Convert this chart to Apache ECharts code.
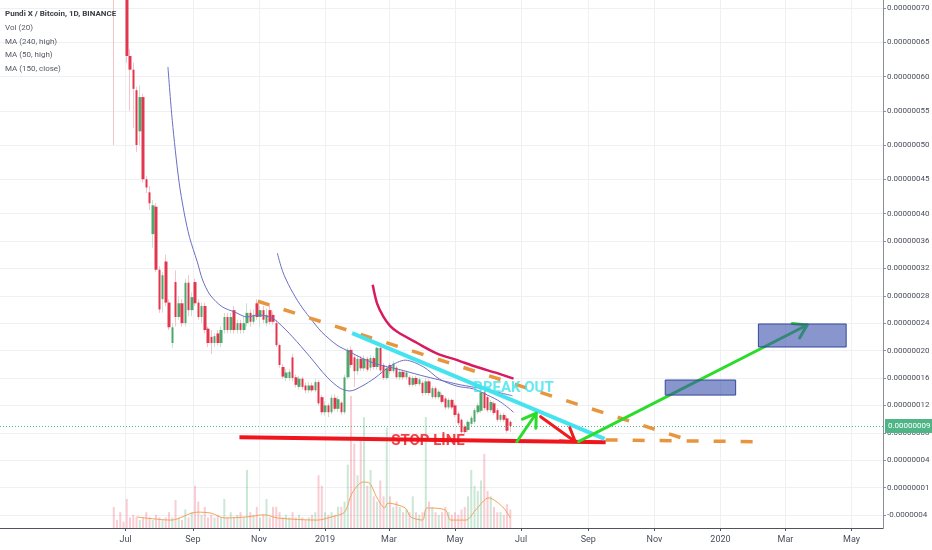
<!DOCTYPE html>
<html><head><meta charset="utf-8">
<script src="https://cdn.jsdelivr.net/npm/echarts@6/dist/echarts.min.js"></script>
<style>html,body{margin:0;padding:0;background:#fff}#c{width:932px;height:550px}</style>
</head><body><div id="c"></div>
<script>
// ---------- data (price in units of 1e-8 BTC) ----------
const candleStart = [2018, 6, 20];
const candleStepDays = 3;
// [open, close, low, high]
const ohlc = [
[95,90,50,100],[100,96,88,105],[96,90,84,99],[90,80,74,92],[80,63,62,82],
[63,61,55,64],[61,58.2,52.5,62],[58,50,49,58.5],[52,57,50,58.7],[57,45,44.5,57.5],
[45,43.8,43,45.5],[43.1,41.5,40.5,44],[37,41.2,35,42],[41,31.8,31.5,41.5],[31.8,26,25.5,32.3],
[27.5,31,25.5,31.5],[33,27,26.5,34],[27,23.4,23,27.5],[21.1,23.4,20.4,24],[30,24.9,23.5,31.7],
[24.9,26.9,24.5,28],[26.9,24,23.5,27.5],[24,29.9,23.5,30.5],[29.9,25.9,25,31],[25.9,27.8,25,28.5],
[30,26.9,26.5,30.5],[27,24.9,24.5,27.5],[24.9,26.5,24,27],[26.5,23,22.5,27],[23.2,21.1,20.5,23.5],
[22,21.1,19.5,23],[21.1,22.1,20.5,22.5],[22.5,21.1,20.7,23],[21.1,23,20.5,23.5],[23,24.9,22.5,25.5],
[24.9,23,22.5,25.5],[23,24.9,22.5,25.5],[25.9,23,22.5,26.5],[23,24,22.5,24.5],[24,23,22.5,24.5],
[23,24,22.5,25],[24,25.5,23.5,26.9],[25.5,24.2,23.5,26],[24.2,25.2,23.8,26],[26.9,24.9,24.5,27.5],
[24.9,25.9,23.5,26.5],[25.9,24.5,24,26.5],[24,25.2,23.5,26.2],[25.9,24.2,23.8,26.9],[25.2,24.2,23.8,25.7],
[24,20.8,20.5,24.5],[20.8,17.9,17.5,21],[17.6,16.2,15.9,18],[16,16.8,15.5,17.3],[16,16.9,15.6,17.3],
[19,16,15.5,19.5],[16.1,15,14.6,16.5],[14.7,15.9,14.3,16.3],[15.9,14.7,14.3,16.2],[14.9,14.2,13.8,15.3],
[14.2,14.9,13.8,15.4],[14.9,14.2,13.9,15.3],[14.2,15.4,13.9,15.8],[15.4,12.3,12,15.7],[13.2,11,10.6,13.5],
[11,12,10.5,12.6],[12,11,10.3,12.3],[11,13.1,10.7,13.5],[13.1,11.5,11.2,13.6],[11.5,12.9,11.1,13.3],
[12.4,11,10.6,12.6],[11,16.1,10.7,16.5],[16.1,20.1,15.8,20.4],[20.1,17.9,17.5,20.6],[19,17,14.7,19.4],
[17,18.8,16.5,19.3],[18.8,17.4,17,19.2],[17.4,18.8,17,19.3],[18.8,17.2,16.9,19.1],[17.5,18.9,17,19.3],
[18.9,17.6,17.2,19.2],[17.6,20.4,17.2,20.6],[20.4,17.1,16.8,20.6],[17.9,16,15.7,18.2],[16,17.4,15.7,17.8],
[17.9,17,16.5,18.2],[17,18.1,16.7,18.5],[17.5,16.1,15.8,17.8],[16.1,16.9,15.7,17.2],[16.9,16.1,15.7,17.2],
[16.1,16.8,15.7,17.1],[16.1,15,14.7,16.4],[15,16,14.7,16.3],[16,15.1,14.8,16.3],[15.1,15.8,14.8,16.1],
[15.3,13.8,13.4,15.6],[13.8,15.5,13.5,16],[15.5,13.8,13.4,15.8],[13.2,14.5,12.9,14.8],[14.5,13.2,12.9,14.8],
[13.2,14,12.9,14.3],[13.5,12.5,12.2,13.8],[13,11.7,11.4,13.3],[11.7,12.8,11.4,13.1],[12.8,11.7,11.4,13],
[12,10.6,10.3,12.3],[10.8,9.4,9.1,11.1],[9.9,8.1,7.8,10.1],[8.9,8.1,7.8,9.2],[8.4,9.6,8.1,9.9],
[9.3,10.2,8.9,10.5],[9.6,11.3,9.3,11.6],[11,12,10.7,12.3],[11.2,13.9,10.9,14.2],[13.9,11.6,11.3,14.2],
[13.2,11.3,11,13.5],[11.3,12.5,11,12.8],[12.3,10.9,10.6,12.6],[11.3,9.9,9.6,11.6],[9.9,10.6,9.6,10.9],
[10.6,9.9,9.6,10.9],[10.1,8.3,8.0,10.4],[9.6,9.0,8.1,9.8]
];
const volumes = [
4,1.5,3,1.2,5.5,2,2.5,2,1.5,2,
3,2,1.5,2.5,2,1.5,2,3,2,5.3,
2,1.5,3.5,2,3,8,5,2.5,4,2,
2.5,2,2.5,2,5.5,2,3,2,2.5,3,
2,11,3,2.5,4,2,2.5,5.5,2,4,
4,3,2,2.5,2,3,2,2.5,2,1.5,
2,2.5,3,10,8,3,2.5,3,2.5,4,
4,5,12,25,16,10,17,21,8,11,
6,5,9,6,19,6,4,5,4,3,
3.5,3,6,3,2.5,3,21,5,4,3,
2.5,3,4,3,2.5,3,2.5,3.5,4,6,
11,8,7,9,14,7,6,4,3,3,
2.5,4.5,3.5
];
const volMA20 = [
['2018-07-11',2.1],['2018-08-12',1.5],['2018-09-05',3.0],['2018-09-18',2.8],['2018-09-30',1.9],
['2018-10-21',2.1],['2018-11-06',2.5],['2018-11-18',1.9],['2018-12-25',1.5],['2019-01-07',2.1],
['2019-01-19',3.0],['2019-01-26',6.6],['2019-02-05',8.7],['2019-02-11',8.5],['2019-02-18',5.7],
['2019-02-25',3.8],['2019-02-28',4.7],['2019-03-16',3.8],['2019-03-21',2.1],['2019-04-01',1.5],
['2019-04-05',3.8],['2019-04-22',3.4],['2019-04-27',1.5],['2019-05-11',1.5],['2019-05-20',3.4],
['2019-06-01',5.7],['2019-06-14',4.0],['2019-06-21',1.9]
];
const ma50High = [
['2018-08-09',61.4],['2018-08-13',53.6],['2018-08-19',44.9],['2018-08-24',40.1],['2018-08-29',36.5],
['2018-09-05',33.0],['2018-09-10',30.3],['2018-09-17',28.1],['2018-09-28',26.4],['2018-10-10',25.6],
['2018-10-21',24.9],['2018-10-31',25.2],['2018-11-11',24.9],['2018-11-18',24.2],['2018-12-02',22.0],
['2018-12-18',19.1],['2019-01-03',16.1],['2019-01-15',14.5],['2019-01-24',14.1],['2019-02-04',14.8],
['2019-02-16',16.0],['2019-03-02',17.7],['2019-03-16',18.6],['2019-04-02',17.6],['2019-04-17',15.8],
['2019-05-03',14.8],['2019-05-18',14.4],['2019-05-31',13.5],['2019-06-12',12.5],['2019-06-24',11.0]
];
const ma150Close = [
['2018-11-18',34.2],['2018-11-23',31.5],['2018-11-30',29.1],['2018-12-09',26.7],['2018-12-18',24.8],
['2018-12-29',22.7],['2019-01-12',20.8],['2019-01-24',19.8],['2019-02-04',18.9],['2019-02-18',18.0],
['2019-03-09',17.3],['2019-03-30',16.4],['2019-04-17',15.7],['2019-05-06',15.0],['2019-05-27',14.4],
['2019-06-23',13.4]
];
const ma240High = [
['2019-02-14',29.6],['2019-02-18',26.9],['2019-02-24',24.9],['2019-03-02',23.6],['2019-03-09',22.7],
['2019-03-27',21.1],['2019-04-14',19.6],['2019-05-03',18.6],['2019-05-21',17.6],['2019-06-09',16.7],
['2019-06-24',15.9]
];
const xTicks = ['2018-07-01','2018-09-01','2018-11-01','2019-01-01','2019-03-01','2019-05-01',
                '2019-07-01','2019-09-01','2019-11-01','2020-01-01','2020-03-01','2020-05-01'];
const monthNames = ['Jan','Feb','Mar','Apr','May','Jun','Jul','Aug','Sep','Oct','Nov','Dec'];
const yTicks = [70,65,60,55,50,45,40,36,32,28,24,20,16,12,8,4,0,-4];
const yTickLabels = ['0.00000070','0.00000065','0.00000060','0.00000055','0.00000050','0.00000045',
  '0.00000040','0.00000036','0.00000032','0.00000028','0.00000024','0.00000020','0.00000016',
  '0.00000012','0.00000008','0.00000004','0.00000001','-0.0000004'];
const lastPrice = 9.0;
const lastPriceLabel = '0.00000009';
// drawings: [date, value] pairs
const dashedTrend = [['2018-10-31',27.2],['2019-12-04',6.85]];
const dashedFloor = [['2019-09-17',6.95],['2020-02-02',6.7]];
const breakoutLine = [['2019-01-26',22.55],['2019-09-16',7.1]];
const stopLine = [['2018-10-14',7.35],['2019-09-17',6.6]];
const greenArrows = [['2019-06-27',6.69,'2019-07-15',10.85],['2019-08-23',6.7,'2020-03-21',23.73]];
const redArrows = [['2019-07-19',10.35,'2019-08-20',6.7]];
const targetBoxes = [['2019-11-11',15.7,'2020-01-15',13.5],['2020-02-05',23.88,'2020-04-26',20.52]];
const stopNote = [['2019-04-06',6.8,'STOP LİNE']];
const breakNote = [['2019-06-24',14.54,'BREAK OUT']];

// ---------- build ----------
const FONT = "Roboto, 'Liberation Sans', sans-serif";
function toTime(s){ const p = s.split('-').map(Number); return new Date(p[0], p[1]-1, p[2]).getTime(); }
const candleTimes = ohlc.map((_, i) => new Date(candleStart[0], candleStart[1]-1, candleStart[2] + candleStepDays*i).getTime());
const wickData = ohlc.map((d, i) => [candleTimes[i], d[0], d[1], d[2], d[3]]);
const bodyData = ohlc.map((d, i) => [candleTimes[i], d[0], d[1], Math.min(d[0], d[1]), Math.max(d[0], d[1])]);
const UP = '#4ea76b', DOWN = '#e2364f';
const volData = volumes.map((v, i) => ({
  value: [candleTimes[i], v],
  itemStyle: { color: ohlc[i][1] >= ohlc[i][0] ? 'rgba(80,180,120,0.3)' : 'rgba(235,90,110,0.3)' }
}));
const pts = arr => arr.map(d => [toTime(d[0]), d[1]]);
const seg = arr => arr.map(d => [toTime(d[0]), d[1], toTime(d[2]), d[3]]);
const xTickTimes = xTicks.map(toTime);

function arrowRender(color){
  return function(params, api){
    const p1 = api.coord([api.value(0), api.value(1)]);
    const p2 = api.coord([api.value(2), api.value(3)]);
    const ang = Math.atan2(p2[1]-p1[1], p2[0]-p1[0]);
    const L = 15, a = Math.PI/5.5;
    const h1 = [p2[0] - L*Math.cos(ang - a), p2[1] - L*Math.sin(ang - a)];
    const h2 = [p2[0] - L*Math.cos(ang + a), p2[1] - L*Math.sin(ang + a)];
    return { type: 'group', children: [
      { type: 'line', shape: {x1:p1[0], y1:p1[1], x2:p2[0], y2:p2[1]}, style: {stroke: color, lineWidth: 3, lineCap: 'round'} },
      { type: 'polyline', shape: {points: [h1, p2, h2]}, style: {stroke: color, lineWidth: 3, fill: null, lineJoin: 'round', lineCap: 'round'} }
    ]};
  };
}
function boxRender(params, api){
  const p1 = api.coord([api.value(0), api.value(1)]);
  const p2 = api.coord([api.value(2), api.value(3)]);
  return { type: 'rect', shape: {x: Math.min(p1[0],p2[0]), y: Math.min(p1[1],p2[1]),
    width: Math.abs(p2[0]-p1[0]), height: Math.abs(p2[1]-p1[1])},
    style: {fill: 'rgba(58,80,172,0.6)', stroke: '#33479a', lineWidth: 1} };
}
function drawLine(data, style, z){
  return { type: 'line', data: pts(data), symbol: 'none', silent: true, z: z, lineStyle: style, clip: true };
}
function note(data, color){
  return { type: 'scatter', data: data.map(d => [toTime(d[0]), d[1], d[2]]), symbolSize: 1, silent: true, z: 9,
    itemStyle: {color: 'rgba(0,0,0,0)'},
    label: {show: true, position: 'inside', formatter: p => p.value[2], color: color, fontSize: 15,
      fontWeight: 'bold', fontFamily: "Roboto, 'Liberation Sans', sans-serif"} };
}

const chart = echarts.init(document.getElementById('c'), null, {renderer: 'canvas'});
chart.setOption({
  animation: false,
  backgroundColor: '#ffffff',
  textStyle: {fontFamily: FONT},
  title: {
    left: 0, top: 2, itemGap: 0,
    text: 'Pundi X / Bitcoin, 1D, BINANCE',
    subtext: 'Vol (20)\nMA (240, high)\nMA (50, high)\nMA (150, close)',
    textStyle: {fontSize: 8, fontWeight: 'bold', color: '#3a3d45', lineHeight: 14, fontFamily: FONT},
    subtextStyle: {fontSize: 8, color: '#555a63', lineHeight: 13.7, fontFamily: FONT}
  },
  grid: {left: 0, right: 49, top: 0, bottom: 22, containLabel: false, outerBoundsMode: 'none'},
  xAxis: {
    type: 'value', min: toTime('2018-03-07'), max: toTime('2020-05-30'),
    axisLine: {show: true, onZero: false, lineStyle: {color: '#50535e'}},
    axisTick: {show: true, customValues: xTickTimes, length: 3, lineStyle: {color: '#50535e'}},
    axisLabel: {customValues: xTickTimes, color: '#4a4e5a', fontSize: 9, margin: 7,
      formatter: v => { const d = new Date(v); return d.getMonth() === 0 ? String(d.getFullYear()) : monthNames[d.getMonth()]; }},
    splitLine: {show: true, lineStyle: {color: '#eef0f4', width: 1}}
  },
  yAxis: [{
    type: 'value', position: 'right', min: -5.9, max: 71.17,
    axisLine: {show: true, lineStyle: {color: '#8c8f99'}},
    axisTick: {show: true, customValues: yTicks, length: 3, lineStyle: {color: '#8c8f99'}},
    axisLabel: {customValues: yTicks, color: '#4a4e5a', fontSize: 8, margin: 4,
      formatter: v => { const k = yTicks.findIndex(t => Math.abs(t - v) < 1e-6); return k >= 0 ? yTickLabels[k] : ''; }},
    splitLine: {show: true, lineStyle: {color: '#eef0f4', width: 1}}
  }, {
    type: 'value', min: 0, max: 100, show: false, splitLine: {show: false}
  }],
  series: [
    { type: 'bar', yAxisIndex: 1, data: volData, barWidth: 2, silent: true, z: 1 },
    { type: 'line', yAxisIndex: 1, data: pts(volMA20), symbol: 'none', smooth: 0.3, silent: true, z: 2,
      lineStyle: {color: '#f2a25a', width: 1} },
    { type: 'candlestick', data: wickData, encode: {x: 0, y: [1,2,3,4]}, barWidth: 1, silent: true, z: 2,
      itemStyle: {color: '#c6e3cf', color0: '#f3c4ca', borderColor: '#c6e3cf', borderColor0: '#f3c4ca', borderWidth: 1} },
    { type: 'candlestick', data: bodyData, encode: {x: 0, y: [1,2,3,4]}, barWidth: 3, silent: true, z: 3,
      itemStyle: {color: UP, color0: DOWN, borderColor: UP, borderColor0: DOWN, borderWidth: 0},
      markLine: { silent: true, symbol: ['none','none'], data: [{yAxis: lastPrice}],
        lineStyle: {color: '#4fb587', type: [1,2], width: 1},
        label: {show: true, position: 'end', formatter: lastPriceLabel, color: '#ffffff', backgroundColor: '#4fb587',
          padding: [3,3,3,3], fontSize: 8, distance: 2, fontFamily: FONT} } },
    { type: 'line', data: pts(ma50High), symbol: 'none', smooth: 0.3, silent: true, z: 4, lineStyle: {color: '#6b6fc4', width: 1} },
    { type: 'line', data: pts(ma150Close), symbol: 'none', smooth: 0.3, silent: true, z: 4, lineStyle: {color: '#6b6fc4', width: 1} },
    { type: 'line', data: pts(ma240High), symbol: 'none', smooth: 0.3, silent: true, z: 4, lineStyle: {color: '#d81b5e', width: 2.5} },
    drawLine(dashedTrend, {color: '#e8953f', width: 3.5, type: [12, 15]}, 5),
    drawLine(dashedFloor, {color: '#e8953f', width: 3.5, type: [12, 15]}, 5),
    drawLine(stopLine, {color: '#f0151c', width: 4}, 5),
    drawLine(breakoutLine, {color: '#45e3ee', width: 4}, 5),
    { type: 'custom', data: seg(greenArrows), encode: {x: [0,2], y: [1,3]}, renderItem: arrowRender('#2bdc2b'), silent: true, z: 6 },
    { type: 'custom', data: seg(redArrows), encode: {x: [0,2], y: [1,3]}, renderItem: arrowRender('#ee1c1c'), silent: true, z: 6 },
    { type: 'custom', data: seg(targetBoxes), encode: {x: [0,2], y: [1,3]}, renderItem: boxRender, silent: true, z: 7 },
    note(stopNote, '#ee1019'),
    note(breakNote, '#3fe4ee')
  ]
});
</script></body></html>
